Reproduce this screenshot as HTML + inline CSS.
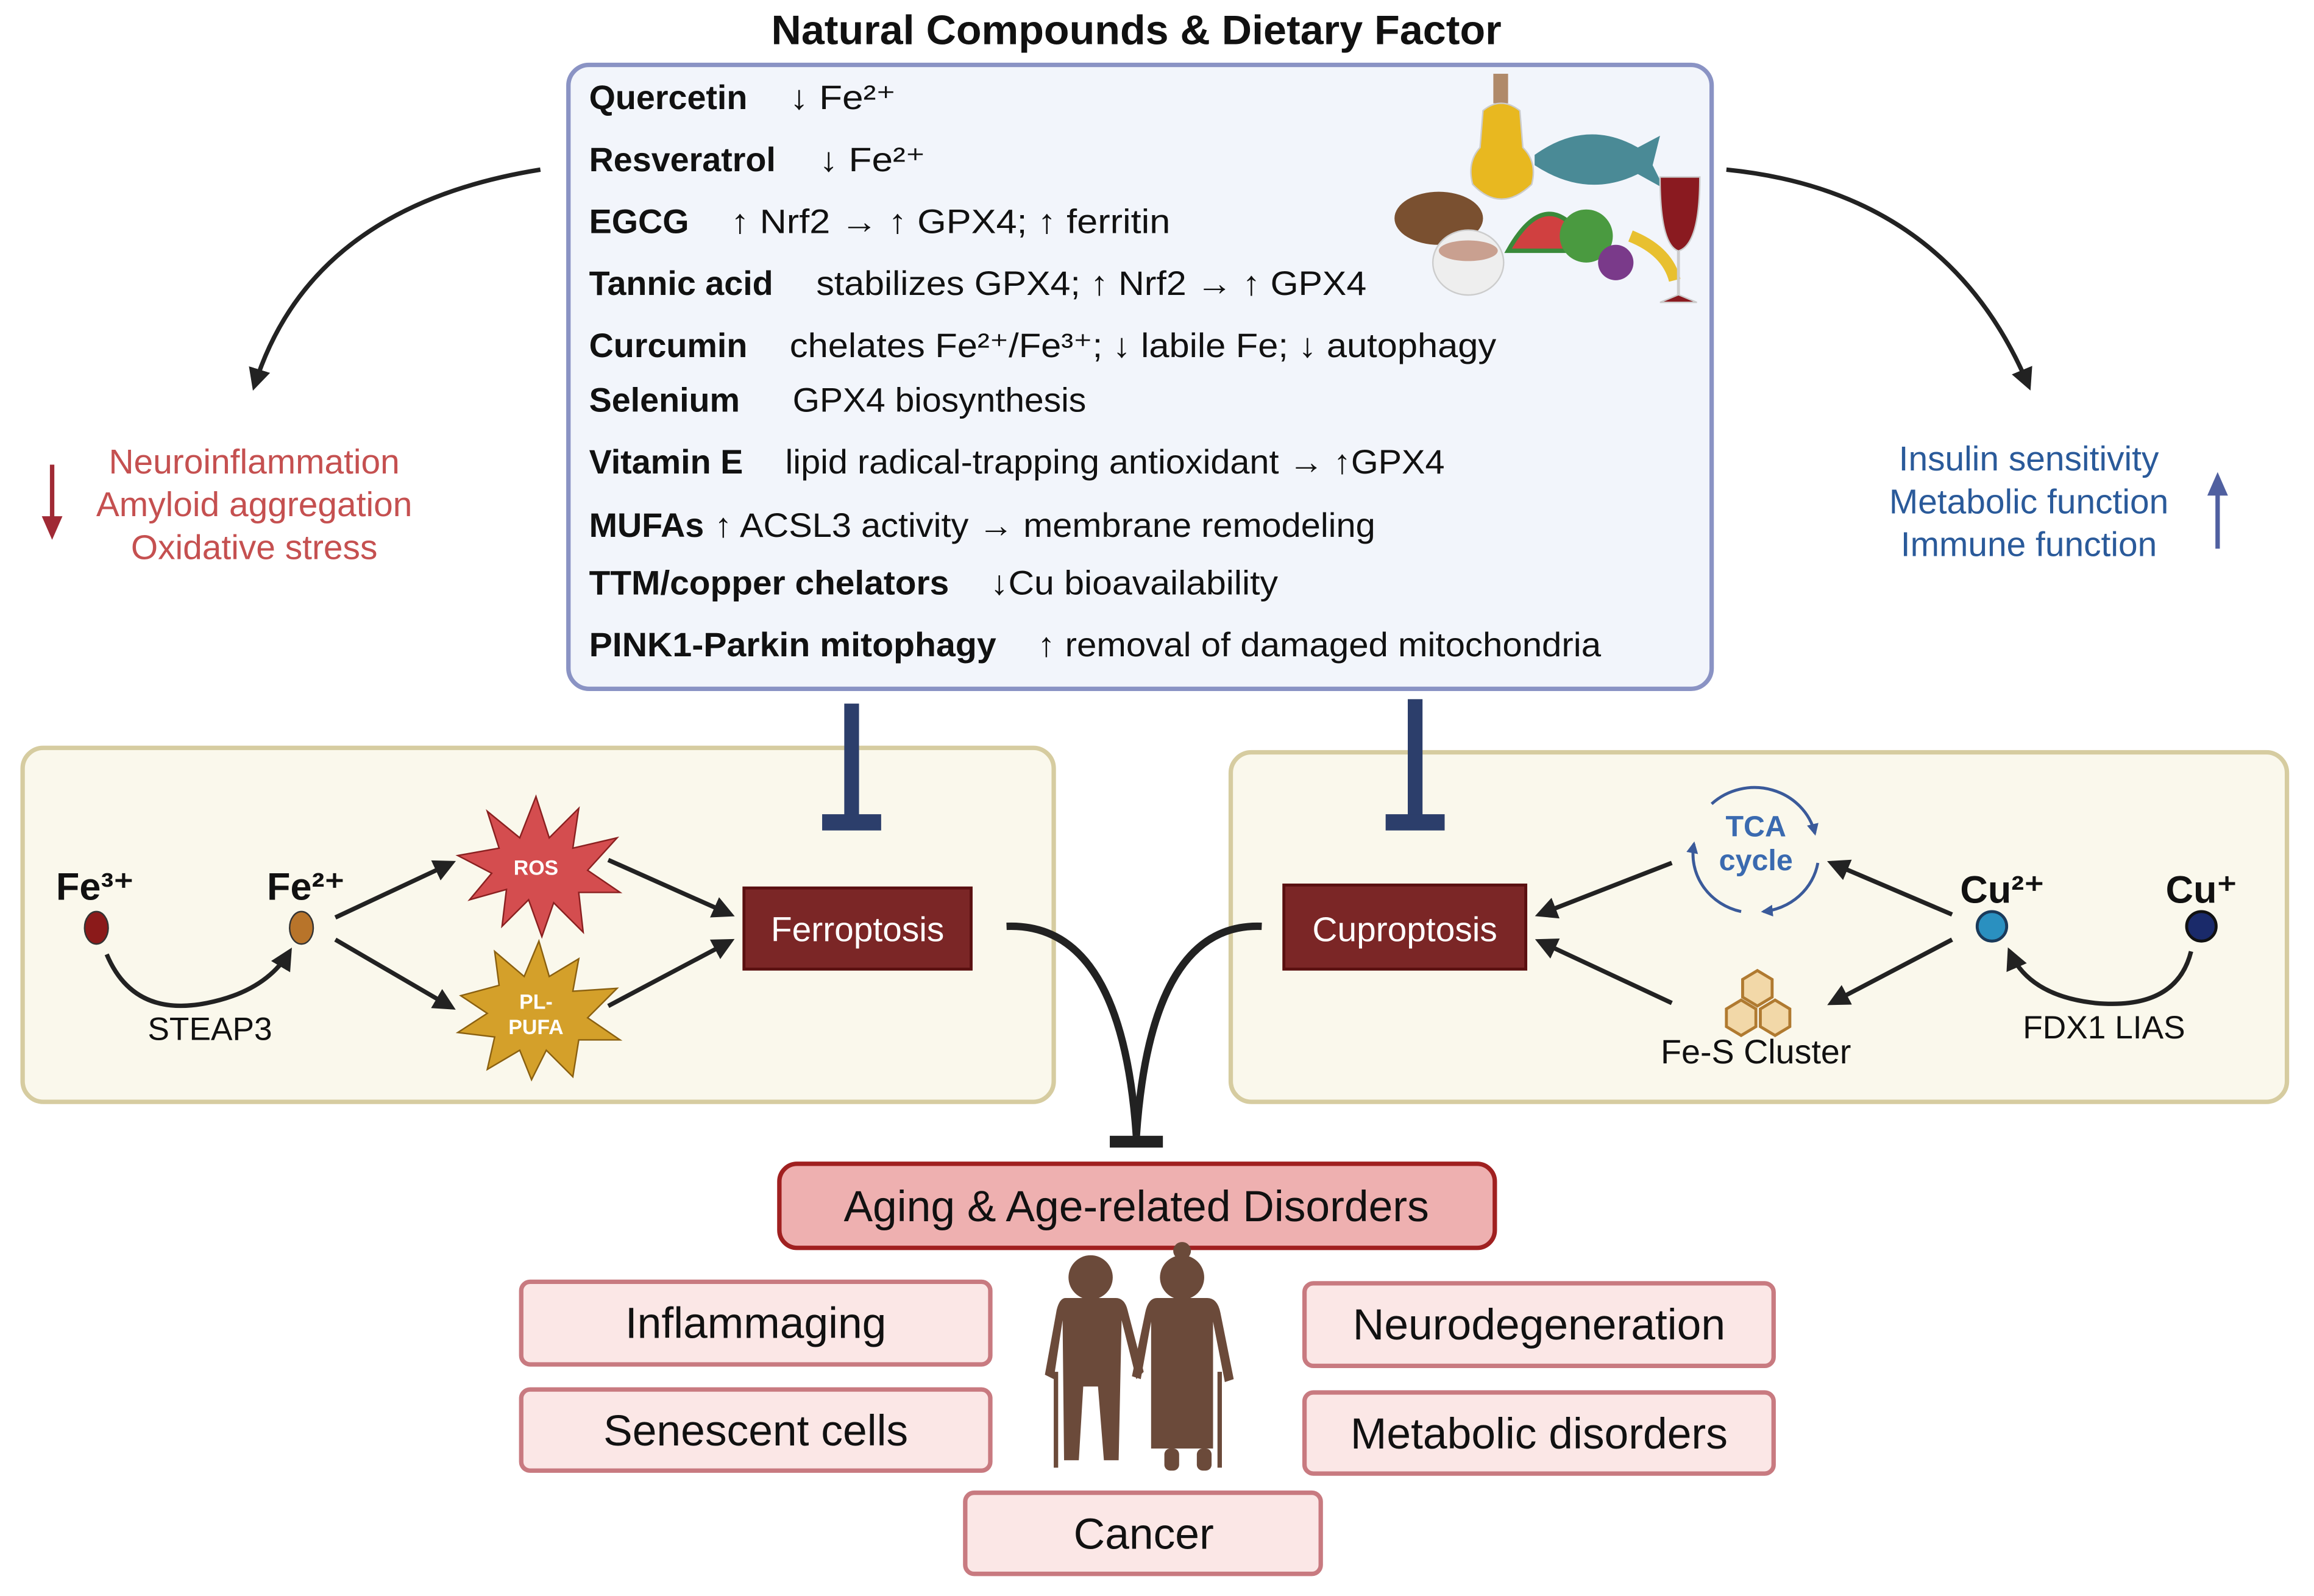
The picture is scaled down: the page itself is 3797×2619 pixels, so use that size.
<!DOCTYPE html>
<html><head><meta charset="utf-8"><style>
html,body{margin:0;padding:0;background:#fff;}
svg{display:block;}
text{font-family:"Liberation Sans",sans-serif;}
</style></head><body>
<svg width="3797" height="2619" viewBox="0 0 1568 1082" xmlns="http://www.w3.org/2000/svg">
<defs>
<marker id="ah" viewBox="0 0 10 10" refX="8" refY="5" markerWidth="5" markerHeight="5" orient="auto"><path d="M0,0 L10,5 L0,10 z" fill="#222"/></marker>
<marker id="ahb" viewBox="0 0 10 10" refX="8" refY="5" markerWidth="4" markerHeight="4" orient="auto"><path d="M0,0 L10,5 L0,10 z" fill="#3a5a9a"/></marker>
</defs>
<rect width="1568" height="1082" fill="#fff"/>
<text x="770" y="30" text-anchor="middle" font-size="28" font-weight="bold" fill="#111" textLength="495" lengthAdjust="spacingAndGlyphs">Natural Compounds &amp; Dietary Factor</text>
<rect x="385" y="44" width="775" height="423" rx="14" fill="#f2f5fb" stroke="#8a93c4" stroke-width="3"/>
<g font-size="23" fill="#111">
<text x="399" y="74" font-weight="bold">Quercetin</text><text x="535" y="74" textLength="72" lengthAdjust="spacingAndGlyphs">↓ Fe²⁺</text>
<text x="399" y="116" font-weight="bold">Resveratrol</text><text x="555" y="116" textLength="72" lengthAdjust="spacingAndGlyphs">↓ Fe²⁺</text>
<text x="399" y="158" font-weight="bold">EGCG</text><text x="495" y="158" textLength="298" lengthAdjust="spacingAndGlyphs">↑ Nrf2 → ↑ GPX4; ↑ ferritin</text>
<text x="399" y="200" font-weight="bold">Tannic acid</text><text x="553" y="200" textLength="373" lengthAdjust="spacingAndGlyphs">stabilizes GPX4; ↑ Nrf2 → ↑ GPX4</text>
<text x="399" y="242" font-weight="bold">Curcumin</text><text x="535" y="242" textLength="479" lengthAdjust="spacingAndGlyphs">chelates Fe²⁺/Fe³⁺; ↓ labile Fe; ↓  autophagy</text>
<text x="399" y="279" font-weight="bold">Selenium</text><text x="537" y="279" textLength="199" lengthAdjust="spacingAndGlyphs">GPX4 biosynthesis</text>
<text x="399" y="321" font-weight="bold">Vitamin E</text><text x="532" y="321" textLength="447" lengthAdjust="spacingAndGlyphs">lipid radical-trapping antioxidant → ↑GPX4</text>
<text x="399" y="364" font-weight="bold">MUFAs</text><text x="484" y="364" textLength="448" lengthAdjust="spacingAndGlyphs">↑ ACSL3 activity → membrane remodeling</text>
<text x="399" y="403" font-weight="bold" textLength="244" lengthAdjust="spacingAndGlyphs">TTM/copper chelators</text><text x="671" y="403" textLength="195" lengthAdjust="spacingAndGlyphs">↓Cu bioavailability</text>
<text x="399" y="445" font-weight="bold" textLength="276" lengthAdjust="spacingAndGlyphs">PINK1-Parkin mitophagy</text><text x="703" y="445" textLength="382" lengthAdjust="spacingAndGlyphs">↑ removal of damaged mitochondria</text>
</g>
<!-- food illustration -->
<g>
<rect x="1012" y="50" width="10" height="20" fill="#b08a6a"/>
<path d="M1005,75 Q1017,65 1030,75 L1032,100 Q1042,110 1038,125 Q1017,145 998,125 Q994,110 1003,100z" fill="#e8b820" stroke="#ccc"/>
<path d="M1040,105 Q1075,80 1110,100 L1125,92 L1120,112 L1128,128 L1110,118 Q1075,135 1040,112z" fill="#4a8a96"/>
<ellipse cx="975" cy="148" rx="30" ry="18" fill="#7a5030"/>
<path d="M1022,170 Q1050,120 1078,170z" fill="#d04040" stroke="#3a8a3a" stroke-width="3"/>
<circle cx="1075" cy="160" r="18" fill="#4a9a40"/>
<circle cx="1095" cy="178" r="12" fill="#7a3a8a"/>
<path d="M1105,160 Q1130,170 1135,190" stroke="#e8c030" stroke-width="8" fill="none"/>
<ellipse cx="995" cy="178" rx="24" ry="22" fill="#eee" stroke="#ccc"/>
<ellipse cx="995" cy="170" rx="20" ry="7" fill="#c9a090"/>
<path d="M1125,120 L1152,120 Q1152,165 1138,170 L1138,200 L1150,205 L1125,205 L1137,200 L1137,170 Q1125,165 1125,120z" fill="#8a1a20" stroke="#ccc"/>
</g>
<!-- side arrows -->
<path d="M366,115 Q210,140 172,262" fill="none" stroke="#222" stroke-width="3" marker-end="url(#ah)"/>
<path d="M1170,115 Q1320,130 1375,262" fill="none" stroke="#222" stroke-width="3" marker-end="url(#ah)"/>
<g font-size="23.5" fill="#c55050" text-anchor="middle">
<text x="172" y="321">Neuroinflammation</text><text x="172" y="350">Amyloid aggregation</text><text x="172" y="379">Oxidative stress</text></g>
<line x1="35" y1="315" x2="35" y2="355" stroke="#a02a35" stroke-width="3"/>
<path d="M28,350 L42,350 L35,366z" fill="#a02a35"/>
<g font-size="23.5" fill="#2a5a9a" text-anchor="middle">
<text x="1375" y="319">Insulin sensitivity</text><text x="1375" y="348">Metabolic function</text><text x="1375" y="377">Immune function</text></g>
<line x1="1503" y1="372" x2="1503" y2="332" stroke="#5060a0" stroke-width="3"/>
<path d="M1496,336 L1510,336 L1503,320z" fill="#5060a0"/>
<!-- panels -->
<rect x="15" y="507" width="699" height="240" rx="14" fill="#faf8ec" stroke="#d6cca0" stroke-width="3"/>
<rect x="834" y="510" width="716" height="237" rx="14" fill="#faf8ec" stroke="#d6cca0" stroke-width="3"/>
<!-- inhibitor bars -->
<rect x="572" y="477" width="10" height="80" fill="#2c3e6b"/><rect x="557" y="552" width="40" height="11" fill="#2c3e6b"/>
<rect x="954" y="474" width="10" height="83" fill="#2c3e6b"/><rect x="939" y="552" width="40" height="11" fill="#2c3e6b"/>
<!-- left panel -->
<text x="64" y="610" text-anchor="middle" font-size="26" font-weight="bold" fill="#111">Fe³⁺</text>
<ellipse cx="65" cy="629" rx="8" ry="11" fill="#8b1a1a" stroke="#333"/>
<text x="207" y="610" text-anchor="middle" font-size="26" font-weight="bold" fill="#111">Fe²⁺</text>
<ellipse cx="204" cy="629" rx="8" ry="11" fill="#b8742a" stroke="#333"/>
<path d="M72,647 Q90,690 140,680 Q180,672 196,645" fill="none" stroke="#222" stroke-width="3" marker-end="url(#ah)"/>
<text x="142" y="705" text-anchor="middle" font-size="22" fill="#111">STEAP3</text>
<line x1="227" y1="622" x2="306" y2="585" stroke="#222" stroke-width="3" marker-end="url(#ah)"/>
<line x1="227" y1="637" x2="306" y2="683" stroke="#222" stroke-width="3" marker-end="url(#ah)"/>
<polygon points="363,540 372,568 392,548 388,575 418,568 398,590 420,605 392,605 395,632 375,612 367,635 358,610 340,628 343,603 318,610 333,592 310,580 338,575 330,550 352,568" fill="#d44d4f" stroke="#8a2020"/>
<text x="363" y="593" text-anchor="middle" font-size="14" font-weight="bold" fill="#fff">ROS</text>
<polygon points="365,638 372,662 392,650 388,672 418,670 398,690 420,705 392,705 388,730 370,712 360,732 352,712 330,725 335,703 310,700 330,687 312,675 338,668 335,645 355,662" fill="#d4a02a" stroke="#8a6010"/>
<text x="363" y="684" text-anchor="middle" font-size="14" font-weight="bold" fill="#fff">PL-</text>
<text x="363" y="701" text-anchor="middle" font-size="14" font-weight="bold" fill="#fff">PUFA</text>
<line x1="412" y1="583" x2="495" y2="620" stroke="#222" stroke-width="3" marker-end="url(#ah)"/>
<line x1="412" y1="682" x2="495" y2="638" stroke="#222" stroke-width="3" marker-end="url(#ah)"/>
<rect x="504" y="602" width="154" height="55" fill="#7b2626" stroke="#5a1010" stroke-width="2"/>
<text x="581" y="638" text-anchor="middle" font-size="23.5" fill="#fff">Ferroptosis</text>
<!-- right panel -->
<rect x="870" y="600" width="164" height="57" fill="#7b2626" stroke="#5a1010" stroke-width="2"/>
<text x="952" y="638" text-anchor="middle" font-size="23.5" fill="#fff">Cuproptosis</text>
<g fill="none" stroke="#3a5a9a" stroke-width="2">
<path d="M1160,545 A42,40 0 0 1 1230,565" marker-end="url(#ahb)"/>
<path d="M1232,585 A42,40 0 0 1 1195,618" marker-end="url(#ahb)"/>
<path d="M1180,618 A42,40 0 0 1 1148,572" marker-end="url(#ahb)"/>
</g>
<text x="1190" y="567" text-anchor="middle" font-size="20" font-weight="bold" fill="#3a6ab0">TCA</text>
<text x="1190" y="590" text-anchor="middle" font-size="20" font-weight="bold" fill="#3a6ab0">cycle</text>
<g fill="#f2d8a8" stroke="#b07a30" stroke-width="2">
<polygon points="1191,658 1201,664 1201,676 1191,682 1181,676 1181,664"/>
<polygon points="1180,678 1190,684 1190,696 1180,702 1170,696 1170,684"/>
<polygon points="1203,678 1213,684 1213,696 1203,702 1193,696 1193,684"/>
</g>
<text x="1190" y="721" text-anchor="middle" font-size="23" fill="#111">Fe-S Cluster</text>
<line x1="1133" y1="585" x2="1043" y2="620" stroke="#222" stroke-width="3" marker-end="url(#ah)"/>
<line x1="1133" y1="680" x2="1043" y2="638" stroke="#222" stroke-width="3" marker-end="url(#ah)"/>
<line x1="1323" y1="620" x2="1241" y2="585" stroke="#222" stroke-width="3" marker-end="url(#ah)"/>
<line x1="1323" y1="637" x2="1241" y2="680" stroke="#222" stroke-width="3" marker-end="url(#ah)"/>
<text x="1357" y="612" text-anchor="middle" font-size="26" font-weight="bold" fill="#111">Cu²⁺</text>
<ellipse cx="1350" cy="628" rx="10" ry="10" fill="#2a90c0" stroke="#1a3a5a" stroke-width="2"/>
<text x="1492" y="612" text-anchor="middle" font-size="26" font-weight="bold" fill="#111">Cu⁺</text>
<ellipse cx="1492" cy="628" rx="10" ry="10" fill="#1a2a6a" stroke="#111" stroke-width="2"/>
<path d="M1485,645 Q1475,685 1420,680 Q1375,675 1362,645" fill="none" stroke="#222" stroke-width="3" marker-end="url(#ah)"/>
<text x="1426" y="704" text-anchor="middle" font-size="22" fill="#111">FDX1 LIAS</text>
<!-- merge curves -->
<path d="M682,628 Q760,625 770,770" fill="none" stroke="#222" stroke-width="5"/>
<path d="M855,628 Q780,625 770,770" fill="none" stroke="#222" stroke-width="5"/>
<rect x="752" y="770" width="36" height="8" fill="#222"/>
<!-- aging -->
<rect x="528" y="789" width="485" height="57" rx="12" fill="#eeb0b0" stroke="#a02020" stroke-width="3"/>
<text x="770" y="828" text-anchor="middle" font-size="29.5" fill="#111">Aging &amp; Age-related Disorders</text>
<g fill="#fbe7e6" stroke="#c87a80" stroke-width="3">
<rect x="353" y="869" width="318" height="56" rx="6"/>
<rect x="353" y="942" width="318" height="55" rx="6"/>
<rect x="884" y="870" width="318" height="56" rx="6"/>
<rect x="884" y="944" width="318" height="55" rx="6"/>
<rect x="654" y="1012" width="241" height="55" rx="6"/>
</g>
<g font-size="29.5" fill="#111" text-anchor="middle">
<text x="512" y="907">Inflammaging</text>
<text x="512" y="980">Senescent cells</text>
<text x="1043" y="908">Neurodegeneration</text>
<text x="1043" y="982">Metabolic disorders</text>
<text x="775" y="1050">Cancer</text>
</g>
<!-- couple -->
<g fill="#6b4a3a">
<circle cx="739" cy="866" r="15"/>
<path d="M722,880 L756,880 Q762,880 764,888 L775,930 L770,935 L760,895 L758,990 L748,990 L744,940 L734,940 L731,990 L721,990 L720,895 L714,935 L708,932 L716,888 Q718,880 722,880z"/>
<rect x="714" y="930" width="3" height="65"/>
<circle cx="801" cy="866" r="15"/><circle cx="801" cy="848" r="6"/>
<path d="M784,880 L818,880 Q825,880 827,890 L836,935 L830,937 L822,896 L822,982 L780,982 L780,896 L773,935 L767,933 L776,890 Q778,880 784,880z"/>
<rect x="789" y="982" width="10" height="15" rx="4"/><rect x="811" y="982" width="10" height="15" rx="4"/>
<rect x="825" y="930" width="3" height="65"/>
</g>
</svg>
</body></html>
